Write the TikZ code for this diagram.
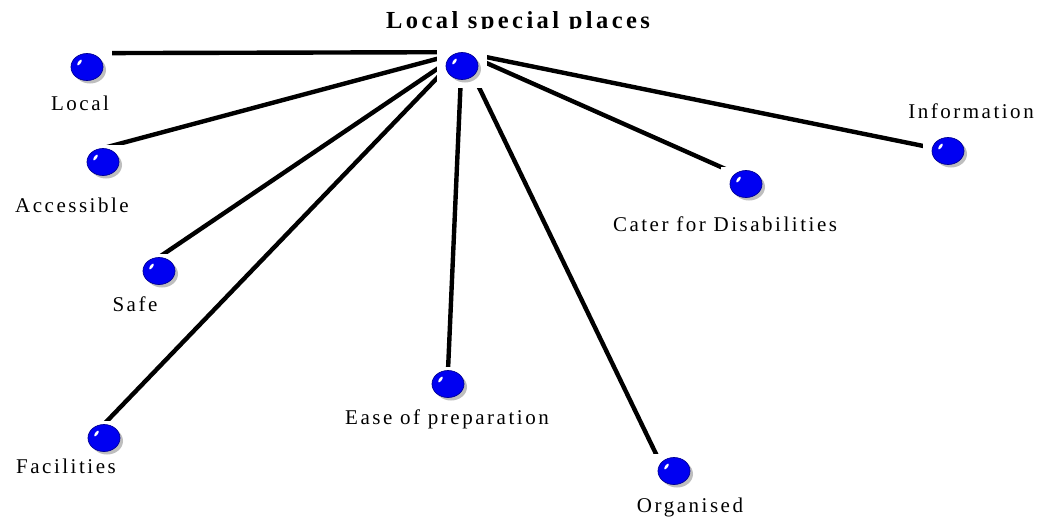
\documentclass[tikz,border=0pt]{standalone}
\usepackage{fontspec}
\usetikzlibrary{shapes.geometric,shadows}
\newfontfamily\lblfont{Liberation Serif}[LetterSpace=12]
\newfontfamily\ttlfont{Liberation Serif}[LetterSpace=14]
\definecolor{ballblue}{RGB}{0,0,242}
\definecolor{balledge}{RGB}{0,0,150}
\definecolor{shadowgray}{RGB}{190,190,190}
\pgfdeclarelayer{links}
\pgfdeclarelayer{masks}
\pgfsetlayers{links,masks,main}
\tikzset{
  ball/.style={ellipse, minimum width=32pt, minimum height=27pt, inner sep=0pt,
    fill=ballblue, draw=balledge, line width=0.7pt,
    drop shadow={shadow xshift=3pt, shadow yshift=-3pt, fill=shadowgray, opacity=1, draw=none},
    path picture={
      \fill[white] ([xshift=8.5pt,yshift=-9pt]path picture bounding box.north west)
        ellipse [x radius=3.4pt, y radius=1.4pt, rotate=55];
    }},
  lbl/.style={anchor=base, inner sep=0pt, font=\lblfont\fontsize{21}{25}\selectfont},
  link/.style={line width=4.4pt, black},
  mask/.style={fill=white}
}
\begin{document}
\begin{tikzpicture}[x=1pt, y=-1pt]
\useasboundingbox (0,0) rectangle (1040,517);

% title, its descenders trimmed at the top strip
\begin{scope}
  \clip (0,0) rectangle (1040,28.5);
  \node[anchor=base, inner sep=0pt, font=\ttlfont\fontsize{24.5}{28}\selectfont\bfseries] (title) at (518,28) {Local special places};
\end{scope}

% balls
\node[ball] (c) at (462,66) {};
\node[ball] (local) at (87,67) {};
\node[ball] (access) at (103,162) {};
\node[ball] (safe) at (159,271) {};
\node[ball] (facil) at (104,438) {};
\node[ball] (ease) at (448,384) {};
\node[ball] (organ) at (674,471) {};
\node[ball] (cater) at (746,184) {};
\node[ball] (info) at (948,151) {};

% labels
\node[lbl] (tlocal) at (80,110) {Local};
\node[lbl] (taccess) at (72,212) {Accessible};
\node[lbl] (tsafe) at (135,311) {Safe};
\node[lbl] (tfacil) at (66,473) {Facilities};
\node[lbl] (tease) at (447,424) {Ease of preparation};
\node[lbl] (torgan) at (690,512) {Organised};
\node[lbl] (tcater) at (725,231) {Cater for Disabilities};
\node[lbl] (tinfo) at (971,118) {Information};

% connectors
\begin{pgfonlayer}{links}
  \draw[link] (c.north) -- (local.north);
  \draw[link] (c.north) -- (access.north);
  \draw[link] (c.north) -- (safe.north);
  \draw[link] (c.north) -- (facil.north);
  \draw[link] (c.north) -- (ease.north);
  \draw[link] (c.north) -- (organ.150);
  \draw[link] (c.north) -- (cater.135);
  \draw[link] (c.north) -- (info.center);
\end{pgfonlayer}

% white tiles behind every ball
\begin{pgfonlayer}{masks}
  \foreach \b in {c,local,access,safe,facil,ease,organ,cater,info}
    \fill[mask] ([shift={(-25,-17)}]\b.center) rectangle ([shift={(25,22)}]\b.center);
\end{pgfonlayer}
\end{tikzpicture}
\end{document}
